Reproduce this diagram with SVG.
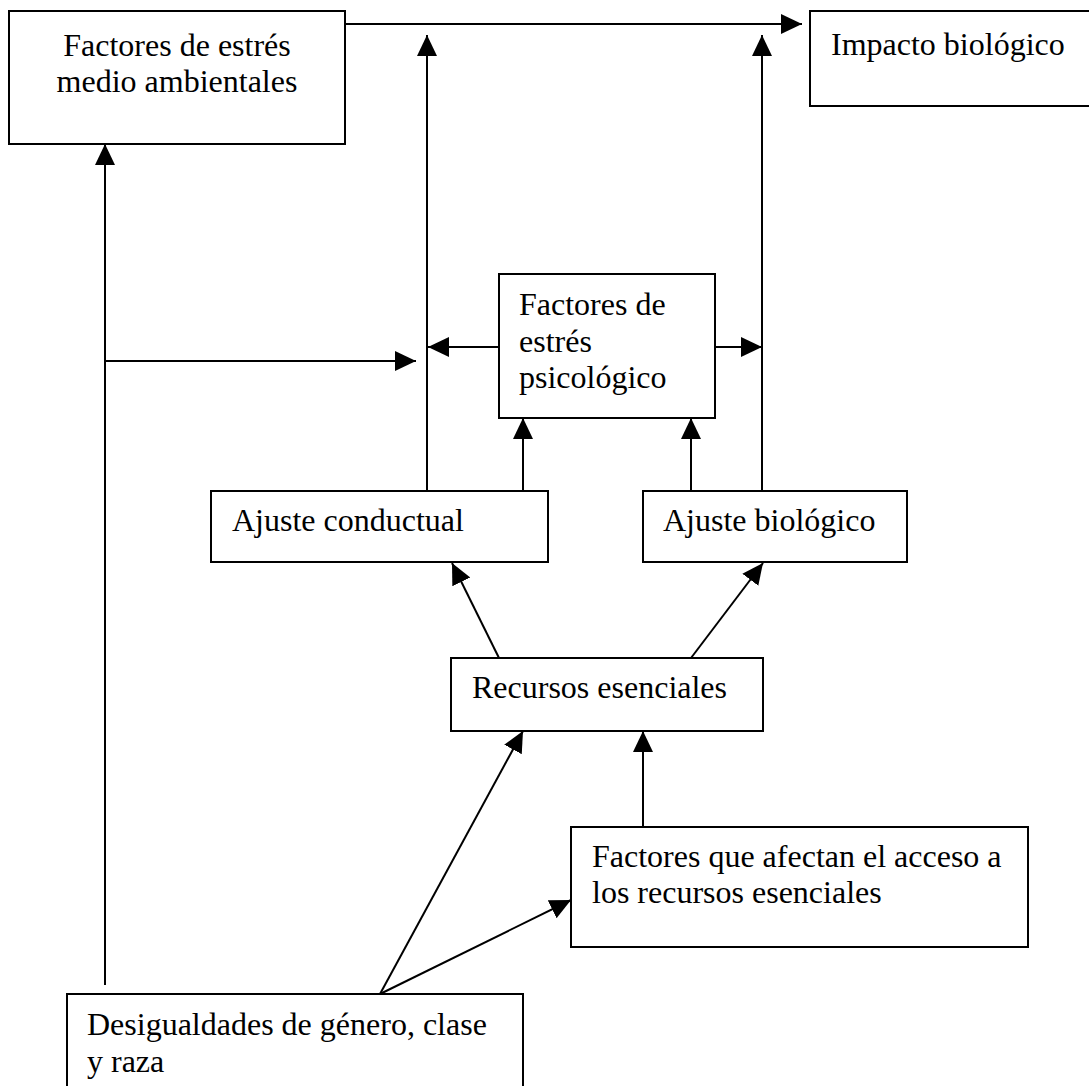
<svg xmlns="http://www.w3.org/2000/svg" width="1089" height="1086" viewBox="0 0 1089 1086">
  <style>
    .box { fill: #ffffff; stroke: #000000; stroke-width: 2; }
    .lbl { font-family: "Liberation Serif", "Times New Roman", serif; font-size: 32px; fill: #000000; }
    .mid { text-anchor: middle; }
    .edge { fill: none; stroke: #000000; stroke-width: 2; }
    .arr { marker-end: url(#head); }
  </style>
  <defs>
    <marker id="head" markerUnits="userSpaceOnUse" markerWidth="22" markerHeight="22" viewBox="0 0 22 22" refX="21" refY="11" orient="auto">
      <path d="M0,1 L21,11 L0,21 Z" fill="#000000"/>
    </marker>
  </defs>

  <rect width="1089" height="1086" fill="#ffffff"/>

  <!-- connectors -->
  <g id="connectors">
    <line class="edge arr" x1="345" y1="24" x2="802" y2="24"/>
    <line class="edge arr" x1="427" y1="491" x2="427" y2="35"/>
    <line class="edge arr" x1="762" y1="491" x2="762" y2="35"/>
    <line class="edge arr" x1="105" y1="985" x2="105" y2="144"/>
    <line class="edge arr" x1="105" y1="361" x2="416" y2="361"/>
    <line class="edge arr" x1="499" y1="347" x2="428" y2="347"/>
    <line class="edge arr" x1="715" y1="347" x2="762" y2="347"/>
    <line class="edge arr" x1="523" y1="491" x2="523" y2="418"/>
    <line class="edge arr" x1="691" y1="491" x2="691" y2="418"/>
    <line class="edge arr" x1="499" y1="658" x2="452" y2="563"/>
    <line class="edge arr" x1="691" y1="658" x2="763" y2="563"/>
    <line class="edge arr" x1="643" y1="827" x2="643" y2="731"/>
    <line class="edge arr" x1="380" y1="994" x2="523" y2="731"/>
    <line class="edge arr" x1="380" y1="994" x2="571" y2="900"/>
  </g>

  <g id="estres-ambiental">
    <rect class="box" x="9" y="11" width="336" height="133"/>
    <text class="lbl mid" x="177" y="56">Factores de estrés</text>
    <text class="lbl mid" x="177" y="92">medio ambientales</text>
  </g>

  <g id="impacto-biologico">
    <rect class="box" x="810" y="11" width="290" height="95"/>
    <text class="lbl" x="831" y="55">Impacto biológico</text>
  </g>

  <g id="estres-psicologico">
    <rect class="box" x="499" y="274" width="216" height="144"/>
    <text class="lbl" x="519" y="315">Factores de</text>
    <text class="lbl" x="519" y="352">estrés</text>
    <text class="lbl" x="519" y="388">psicológico</text>
  </g>

  <g id="ajuste-conductual">
    <rect class="box" x="211" y="491" width="337" height="71"/>
    <text class="lbl" x="232" y="531">Ajuste conductual</text>
  </g>

  <g id="ajuste-biologico">
    <rect class="box" x="643" y="491" width="264" height="71"/>
    <text class="lbl" x="663" y="531">Ajuste biológico</text>
  </g>

  <g id="recursos-esenciales">
    <rect class="box" x="451" y="658" width="312" height="73"/>
    <text class="lbl" x="472" y="698">Recursos esenciales</text>
  </g>

  <g id="factores-acceso">
    <rect class="box" x="571" y="827" width="457" height="120"/>
    <text class="lbl" x="592" y="867">Factores que afectan el acceso a</text>
    <text class="lbl" x="592" y="903">los recursos esenciales</text>
  </g>

  <g id="desigualdades">
    <rect class="box" x="67" y="994" width="456" height="110"/>
    <text class="lbl" x="87" y="1035">Desigualdades de género, clase</text>
    <text class="lbl" x="87" y="1072">y raza</text>
  </g>
</svg>
